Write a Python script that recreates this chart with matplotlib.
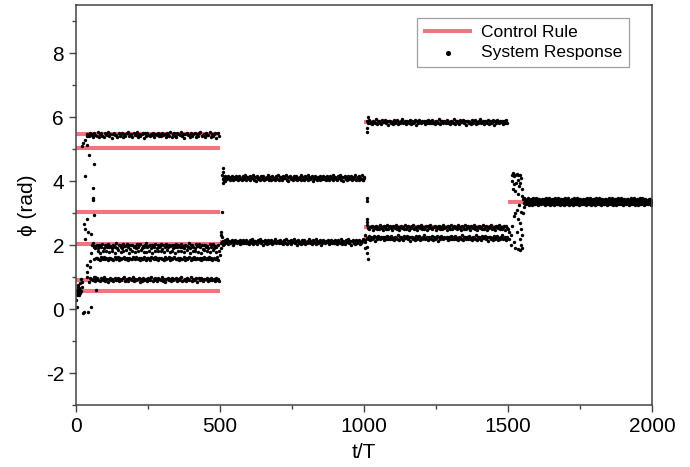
import numpy as np
import matplotlib
matplotlib.use('Agg')
import matplotlib.pyplot as plt
from matplotlib.ticker import MultipleLocator

plt.rcParams['font.family'] = ['Liberation Sans', 'DejaVu Sans']
plt.rcParams['axes.unicode_minus'] = False

# control rule: horizontal set-points
cr_start = [0, 0, 0, 0, 0, 0, 507, 500, 1000, 1000, 1000, 1500]
cr_end = [500, 500, 500, 500, 500, 500, 1000, 1000, 1500, 1500, 1500, 2000]
cr_level = [5.47, 5.03, 3.03, 2.03, 0.90, 0.56, 4.10, 2.10, 5.85, 2.55, 2.22, 3.35]

# system response: steady traces (start, end, level, sampling step, spread)
tr_start = [40, 60, 75, 70, 50, 510, 505, 1010, 1010, 1010, 1556]
tr_end = [500, 495, 495, 495, 500, 1000, 1000, 1500, 1500, 1500, 2000]
tr_level = [5.45, 1.97, 1.80, 1.58, 0.93, 4.10, 2.10, 5.85, 2.55, 2.22, 3.36]
tr_step = [4, 4, 10, 4, 4, 3, 3, 3.5, 3.5, 3.5, 1.2]
tr_spread = [1.0, 0.9, 0.6, 0.6, 0.8, 1.0, 1.0, 0.9, 0.9, 0.9, 1.3]

# scatter of the readings around each level (rad)
jitter = [0.03, -0.05, 0.07, -0.02, 0.01, -0.08, 0.05, 0.00, -0.04, 0.09,
          -0.06, 0.02, 0.04, -0.03, -0.07, 0.06, 0.01, -0.01, 0.08, -0.05,
          0.03, -0.09, 0.02, 0.05, -0.02, 0.00, -0.06, 0.07, -0.04, 0.03,
          0.06, -0.08, 0.01, -0.03, 0.04, 0.09, -0.05, -0.01, 0.02, -0.07,
          0.05, 0.00, -0.02, 0.08, -0.06, 0.03, -0.04, 0.01, 0.06, -0.09,
          0.04, -0.03, 0.07, -0.01, -0.05, 0.02, 0.00, 0.05, -0.07, 0.03,
          -0.02, 0.06, -0.04]

# transient readings after each switch
trans_t = [0, 2, 3, 4, 5, 6, 7, 8, 9, 10, 11, 12, 13, 14, 15, 16, 18, 20, 22,
           25, 28, 43, 54, 31, 46, 62, 58, 59, 60, 62, 37, 31, 43, 53, 37, 48,
           25, 37, 20, 30, 40, 37, 28, 33, 40, 48, 52, 55, 62, 66, 45, 60, 65, 70,
           506, 508, 511, 509, 512, 515, 505, 503, 498, 500, 503, 507, 510,
           1015, 1012, 1009, 1009, 1009, 1012, 1010, 1005, 1009, 1012, 1014,
           1002, 1004, 1003, 995, 1000,
           1513, 1517, 1520, 1525, 1530, 1535, 1540, 1545, 1515, 1520, 1528,
           1533, 1538, 1542, 1548, 1518, 1525, 1535, 1550, 1553,
           1500, 1505, 1503, 1510, 1515, 1520, 1525, 1530, 1535, 1540, 1545,
           1548, 1530, 1520, 1540, 1545, 1525, 1535, 1542, 1550, 1512, 1555,
           1552, 1545, 1538]
trans_phi = [0.55, 0.28, 0.45, 0.07, 0.60, 0.50, 0.75, 0.70, 0.55, 0.45, 0.60,
             0.65, 0.50, 0.60, 0.80, 0.95, 0.55, 0.70, 0.85, -0.12, -0.10, -0.08,
             0.07, 4.16, 4.81, 4.55, 3.77, 3.47, 3.40, 2.94, 2.83, 2.50, 2.40,
             2.35, 1.37, 1.33, 5.18, 5.13, 5.10, 5.30, 5.40, 1.00, 2.65, 2.20,
             1.15, 1.50, 1.75, 2.00, 1.55, 1.90, 0.85, 0.90, 1.00, 0.60,
             3.04, 4.20, 4.40, 3.93, 4.30, 4.00, 2.42, 2.30, 1.80, 1.70, 1.90,
             2.25, 2.00,
             6.00, 5.65, 5.54, 3.47, 3.37, 2.83, 2.73, 2.16, 1.95, 1.74, 1.58,
             2.30, 2.10, 1.90, 4.05, 4.10,
             4.20, 4.25, 4.15, 4.20, 4.22, 4.18, 4.20, 4.10, 4.00, 3.90, 3.95,
             4.05, 3.85, 3.95, 3.75, 3.75, 3.70, 3.60, 3.55, 3.45,
             2.50, 2.40, 2.20, 2.30, 2.60, 2.90, 3.00, 3.10, 2.80, 2.70, 2.50,
             2.30, 2.40, 2.10, 2.20, 2.00, 1.90, 1.87, 1.85, 1.90, 2.00, 3.20,
             3.00, 3.05, 3.25]

pts_t = list(trans_t)
pts_phi = list(trans_phi)
for i in range(len(tr_level)):
    t = np.arange(tr_start[i], tr_end[i], tr_step[i])
    noise = np.roll(np.resize(jitter, len(t)), 11 * i) * tr_spread[i]
    pts_t += list(t)
    pts_phi += list(tr_level[i] + noise)

fig = plt.figure(figsize=(6.9, 4.67), dpi=100)
ax = fig.add_axes([0.110, 0.1328, 0.835, 0.856])

ax.hlines(cr_level, cr_start, cr_end, colors='#f27480', linewidth=2.9,
          label='Control Rule', zorder=1)
ax.scatter(pts_t, pts_phi, s=6, c='black', linewidths=0,
           label='System Response', zorder=2)

ax.set_xlim(0, 2000)
ax.set_ylim(-3, 9.5)
ax.xaxis.set_major_locator(MultipleLocator(500))
ax.xaxis.set_minor_locator(MultipleLocator(250))
ax.yaxis.set_major_locator(MultipleLocator(2))
ax.yaxis.set_minor_locator(MultipleLocator(1))
ax.tick_params(which='major', direction='out', length=5, width=1,
               labelsize=15, color='#444444')
ax.tick_params(which='minor', direction='out', length=3, width=1,
               color='#444444')
for sp in ax.spines.values():
    sp.set_color('#444444')
    sp.set_linewidth(1.1)

ax.set_xlabel('t/T', fontsize=15, labelpad=5)
ax.set_ylabel('\u03d5 (rad)', fontsize=15, labelpad=6)

leg = ax.legend(loc='upper right', bbox_to_anchor=(0.975, 0.99), fontsize=12.5,
                frameon=True, fancybox=False, edgecolor='#888888',
                handlelength=2.8, markerscale=1.5, borderpad=0.4,
                labelspacing=0.3, handletextpad=0.5)
leg.get_frame().set_linewidth(0.9)

fig.savefig('out.png', dpi=100)
